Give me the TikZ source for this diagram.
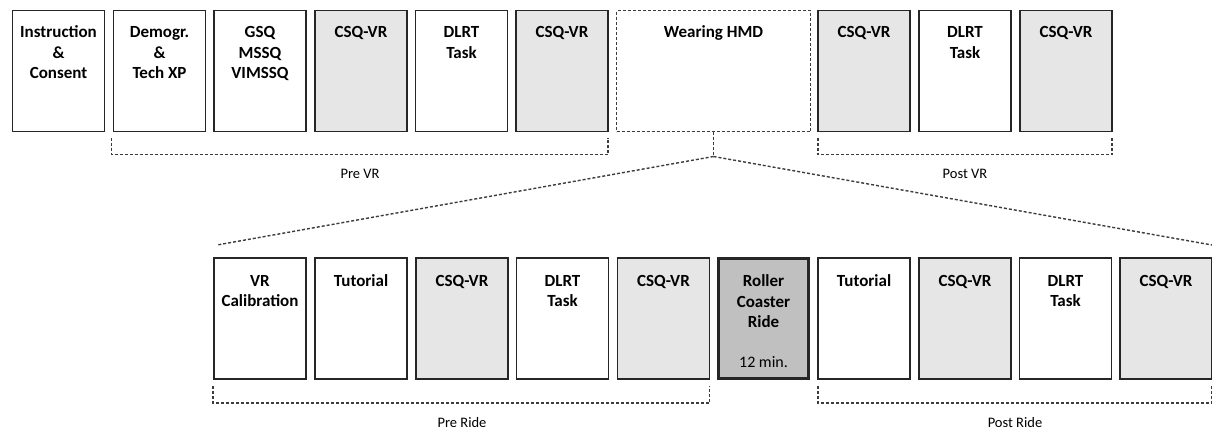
\documentclass[tikz,border=0pt]{standalone}
\usepackage{fontspec}
\setmainfont{Carlito}
\usetikzlibrary{calc}
\definecolor{edge}{HTML}{262626}
\definecolor{csqfill}{HTML}{E6E6E6}
\definecolor{ridefill}{HTML}{C0C0C0}
\tikzset{
  box/.style={draw=edge, line width=1.4pt, fill=white, minimum width=92pt,
    minimum height=121pt, inner sep=0pt, outer sep=0pt},
  csq/.style={box, fill=csqfill},
  ridebox/.style={box, fill=ridefill, line width=2.8pt, minimum width=90.5pt, minimum height=119.5pt},
  hmdbox/.style={box, draw=edge!90, dash pattern=on 3pt off 2pt, minimum width=194pt},
  dotline/.style={draw=edge!90, line width=1.4pt, dash pattern=on 3pt off 2pt},
  boxtxt/.style={anchor=north, inner sep=0pt, align=center,
    font=\fontsize{17}{20.5}\selectfont\bfseries},
  lbl/.style={anchor=base, inner sep=0pt, font=\fontsize{14.5}{17}\selectfont},
}
\newcommand{\fl}{\rule{0pt}{13pt}}
\begin{document}
\begin{tikzpicture}[x=1pt,y=-1pt]
\clip (0,0) rectangle (1212,429);
\useasboundingbox (0,0) rectangle (1212,429);

% ---- top row ----
\node[box] (t1) at (58.5,71) {};
\node[box] (t2) at (159.5,71) {};
\node[box] (t3) at (260,71) {};
\node[csq] (t4) at (361,71) {};
\node[box] (t5) at (461.5,71) {};
\node[csq] (t6) at (562,71) {};
\node[hmdbox] (hmd) at (713.5,71) {};
\node[csq] (t8) at (864,71) {};
\node[box] (t9) at (965,71) {};
\node[csq] (t10) at (1066,71) {};

\foreach \n/\t in {t1/{\fl Instruction\\\&\\Consent}, t2/{\fl Demogr.\\\&\\Tech XP},
  t3/{\fl GSQ\\MSSQ\\VIMSSQ}, t4/{\fl CSQ-VR}, t5/{\fl DLRT\\Task}, t6/{\fl CSQ-VR},
  hmd/{\fl Wearing HMD}, t8/{\fl CSQ-VR}, t9/{\fl DLRT\\Task}, t10/{\fl CSQ-VR}}
  \node[boxtxt] (\n txt) at ($(\n.north)+(0,14)$) {\t};

% ---- bottom row ----
\node[box] (b1) at (260,318.5) {};
\node[box] (b2) at (361,318.5) {};
\node[csq] (b3) at (462,318.5) {};
\node[box] (b4) at (562.5,318.5) {};
\node[csq] (b5) at (663.5,318.5) {};
\node[ridebox] (ride) at (763.5,318.5) {};
\node[box] (b7) at (864,318.5) {};
\node[csq] (b8) at (965,318.5) {};
\node[box] (b9) at (1065.5,318.5) {};
\node[csq] (b10) at (1166,318.5) {};

\foreach \n/\t in {b1/{\fl VR\\Calibration}, b2/{\fl Tutorial}, b3/{\fl CSQ-VR},
  b4/{\fl DLRT\\Task}, b5/{\fl CSQ-VR}, ride/{\fl Roller\\Coaster\\Ride},
  b7/{\fl Tutorial}, b8/{\fl CSQ-VR}, b9/{\fl DLRT\\Task}, b10/{\fl CSQ-VR}}
  \node[boxtxt] (\n txt) at ($(\n.north)+(0,15)$) {\t};
\node[lbl, font=\fontsize{16}{19}\selectfont] (ridetime) at (763.5,367) {12 min.};

% ---- brackets under the top row ----
\draw[dotline] ($(t2.south west)+(-2,6)$) -- ($(t2.south west)+(-2,23)$)
  -- ($(t6.south east)+(0,23)$) -- ($(t6.south east)+(0,6)$);
\node[lbl] (prevr) at (360,178) {Pre VR};
\draw[dotline] ($(t8.south west)+(0,6)$) -- ($(t8.south west)+(0,23)$)
  -- ($(t10.south east)+(0,23)$) -- ($(t10.south east)+(0,6)$);
\node[lbl] (postvr) at (965,178) {Post VR};

% ---- zoom from the HMD phase to the detailed row ----
\coordinate (split) at ($(hmd.south)+(0,25)$);
\draw[dotline] (hmd.south) -- (split);
\draw[dotline] (split) -- ($(b1.north west)+(3,-13)$);
\draw[dotline] (split) -- ($(b10.north east)+(0,-13)$);

% ---- brackets under the bottom row ----
\draw[dotline] ($(b1.south west)+(-1,7)$) -- ($(b1.south west)+(-1,24)$)
  -- ($(b5.south east)+(0,24)$) -- ($(b5.south east)+(0,7)$);
\node[lbl] (preride) at (462,427) {Pre Ride};
\draw[dotline] ($(b7.south west)+(0,7)$) -- ($(b7.south west)+(0,24)$)
  -- ($(b10.south east)+(0,24)$) -- ($(b10.south east)+(0,7)$);
\node[lbl] (postride) at (1015,427) {Post Ride};
\end{tikzpicture}
\end{document}
